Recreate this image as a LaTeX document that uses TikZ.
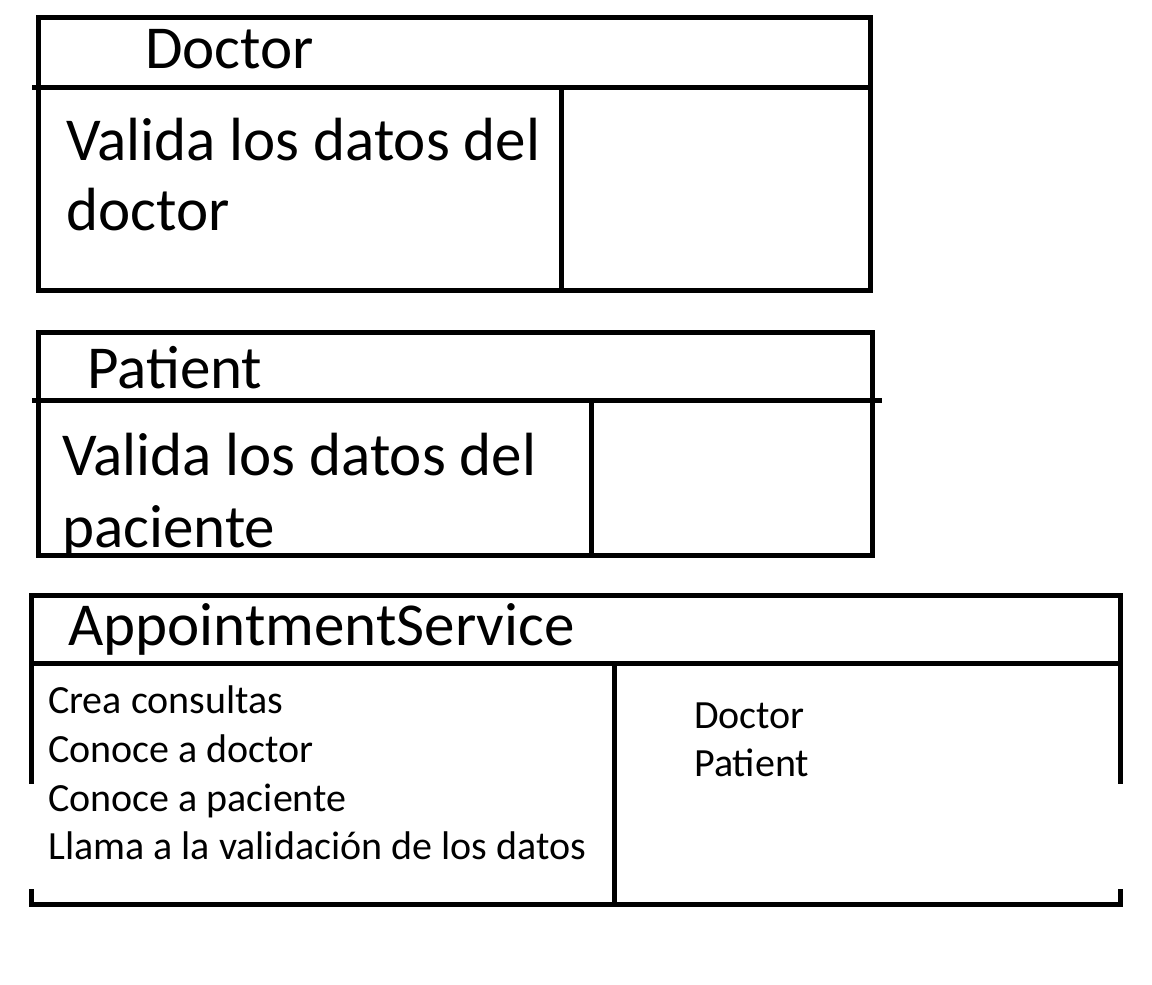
\documentclass[tikz,border=0pt]{standalone}
\usepackage{fontspec}
\setmainfont{Carlito}
\begin{document}
\begin{tikzpicture}[x=1pt,y=-1pt,
  box/.style={line width=5pt, line join=miter, line cap=rect},
  big/.style={anchor=base west, inner sep=0pt, font=\fontsize{61}{70}\selectfont},
  small/.style={anchor=base west, inner sep=0pt, font=\fontsize{40}{48}\selectfont}]
\useasboundingbox (0,0) rectangle (1152,985);
\fill[white] (0,0) rectangle (1152,985);
% Doctor box
\draw[box] (38.5,17.5) rectangle (870.5,290);
\draw[box] (34,87) -- (870.5,87);
\draw[box] (561.5,87) -- (561.5,290);
% Patient box
\draw[box] (38,332.5) rectangle (872,555);
\draw[box] (34,400.5) -- (879,400.5);
\draw[box] (591,400.5) -- (591,555);
% AppointmentService box
\draw[box] (31.5,781.5) -- (31.5,595.5) -- (1120,595.5) -- (1120,781.5);
\draw[box] (31.5,663.5) -- (1120,663.5);
\draw[box] (31.5,891) -- (31.5,904) -- (1120,904) -- (1120,891);
\draw[box] (614,668) -- (614,904);
% texts
\node[big] (dt) at (145,68) {Doctor};
\node[big] (d1) at (66,160) {Valida los datos del};
\node[big] (d2) at (66,230) {doctor};
\node[big] (pt) at (87,388) {Patient};
\node[big] (p1) at (62,475) {Valida los datos del};
\node[big] (p2) at (62,547) {paciente};
\node[big] (at) at (68,645) {AppointmentService};
\node[small] (a1) at (48,713) {Crea consultas};
\node[small] (a2) at (48,762) {Conoce a doctor};
\node[small] (a3) at (48,811) {Conoce a paciente};
\node[small] (a4) at (48,859) {Llama a la validación de los datos};
\node[small] (c1) at (694,728) {Doctor};
\node[small] (c2) at (694,776) {Patient};
\end{tikzpicture}
\end{document}
